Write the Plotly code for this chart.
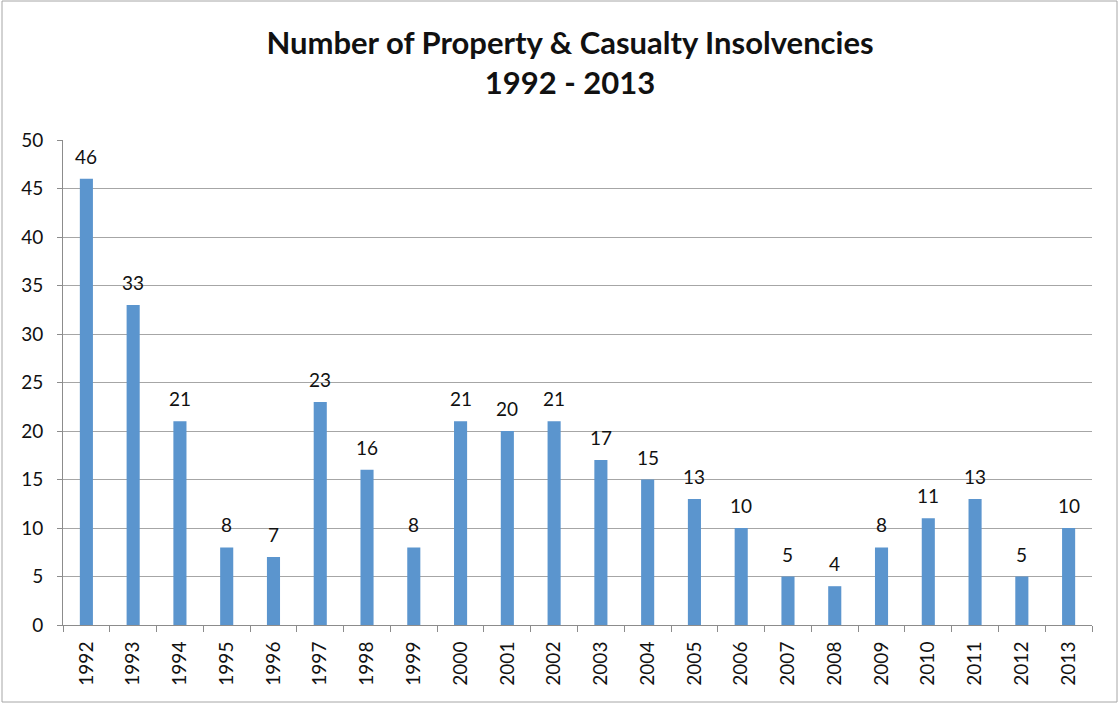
import plotly.graph_objects as go

years = [str(y) for y in range(1992, 2014)]
insolvencies = [46, 33, 21, 8, 7, 23, 16, 8, 21, 20, 21, 17, 15, 13, 10, 5, 4, 8, 11, 13, 5, 10]
y_ticks = list(range(0, 55, 5))

W, H = 1120, 705
L, R, T, B = 63, 28, 140, 80
pw, ph = W - L - R, H - T - B

def px2x(px):
    return (px - L) / pw

def py2y(py):
    return (H - B - py) / ph

FONT = "Lato, Open Sans, sans-serif"

fig = go.Figure(go.Bar(
    x=years, y=insolvencies,
    marker=dict(color="#5B95CE", line=dict(width=0)),
    hoverinfo="x+y",
))

# category axis: annotation x given as category index
annotations = [
    dict(x=i, y=v, xref="x", yref="y", text=str(v), showarrow=False,
         yanchor="bottom", yshift=9, font=dict(size=19, color="#111111", family=FONT))
    for i, v in enumerate(insolvencies)
]

fig.update_layout(
    width=W, height=H,
    margin=dict(l=L, r=R, t=T, b=B),
    paper_bgcolor="white", plot_bgcolor="white",
    bargap=0.72,
    showlegend=False,
    font=dict(family=FONT, color="#111111"),
    title=dict(
        text="<b>Number of Property & Casualty Insolvencies<br>1992 - 2013</b>",
        x=570 / W, xref="container", xanchor="center",
        y=1 - 54 / H, yref="container", yanchor="middle",
        font=dict(size=31, color="#111111"),
    ),
    xaxis=dict(
        type="category", tickangle=-90, tickson="boundaries",
        range=[-0.5, len(years) - 0.5],
        ticks="outside", ticklen=6, tickcolor="#8C8C8C",
        showline=True, linecolor="#8C8C8C", linewidth=1,
        tickfont=dict(size=19, color="#111111"),
        ticklabelstandoff=8,
        showgrid=False,
    ),
    yaxis=dict(
        range=[0, 50], tickvals=y_ticks,
        ticks="outside", ticklen=5, tickcolor="#8C8C8C",
        showline=True, linecolor="#8C8C8C", linewidth=1,
        gridcolor="#A6A6A6", gridwidth=1,
        zeroline=False,
        tickfont=dict(size=19, color="#111111"),
        ticklabelstandoff=10,
    ),
    annotations=annotations,
    shapes=[dict(
        type="rect", xref="paper", yref="paper",
        x0=px2x(2), x1=px2x(1117), y0=py2y(702), y1=py2y(1),
        line=dict(color="#A6A6A6", width=1), fillcolor="rgba(0,0,0,0)",
        layer="below",
    )],
)

fig.write_html("out.html")
